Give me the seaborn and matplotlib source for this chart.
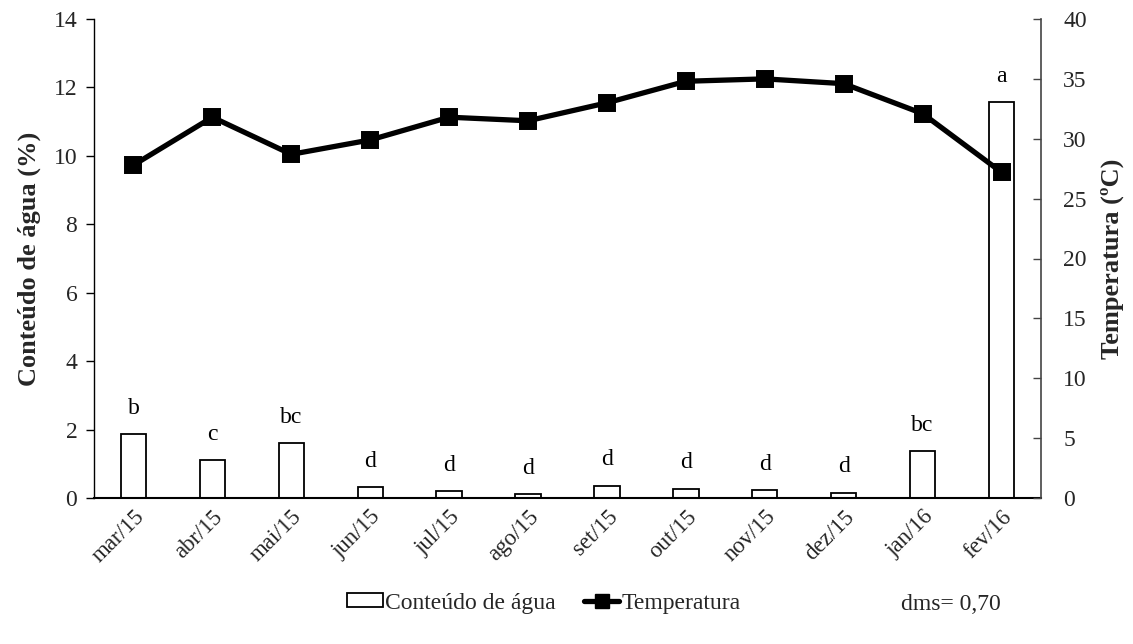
import numpy as np
import pandas as pd
import matplotlib
matplotlib.use("Agg")
import matplotlib.pyplot as plt
from matplotlib.patches import Patch
from matplotlib.lines import Line2D
import seaborn as sns

months = ["mar/15", "abr/15", "mai/15", "jun/15", "jul/15", "ago/15",
          "set/15", "out/15", "nov/15", "dez/15", "jan/16", "fev/16"]
agua = [1.86, 1.11, 1.60, 0.31, 0.20, 0.12, 0.36, 0.27, 0.23, 0.16, 1.38, 11.56]
temperatura = [27.8, 31.8, 28.7, 29.9, 31.8, 31.5, 33.0, 34.8, 35.0, 34.6, 32.1, 27.2]
letras = ["b", "c", "bc", "d", "d", "d", "d", "d", "d", "d", "bc", "a"]
left_ticks = [0, 2, 4, 6, 8, 10, 12, 14]
right_ticks = [0, 5, 10, 15, 20, 25, 30, 35, 40]

sns.set_theme(style="white")
plt.rcParams["font.family"] = ["Liberation Serif", "DejaVu Serif"]
FS_TICK = 17
FS_X = 16.5
FS_LAB = 19
FS_TXT = 17

df = pd.DataFrame({"mes": months, "agua": agua, "temp": temperatura})

fig = plt.figure(figsize=(11.33, 6.44), dpi=100)
ax = fig.add_axes([94 / 1133, 1 - 498 / 644, (1041 - 94) / 1133, (498 - 19) / 644])

sns.barplot(data=df, x="mes", y="agua", ax=ax, width=0.32,
            facecolor="white", edgecolor="black", linewidth=1.3, zorder=2)

for i, (v, t) in enumerate(zip(agua, letras)):
    ax.annotate(t, xy=(i, v), xytext=(0, 11), textcoords="offset points",
                ha="center", va="bottom", fontsize=FS_TXT, color="black")

ax.set_ylim(0, 14)
ax.set_xlim(-0.5, len(months) - 0.5)
ax.set_yticks(left_ticks)
ax.set_yticklabels([str(t) for t in left_ticks], fontsize=FS_TICK)
ax.set_xticks(range(len(months)))
ax.set_xticklabels(months, rotation=45, ha="right", rotation_mode="anchor", fontsize=FS_X)
ax.tick_params(axis="x", which="major", length=0, pad=6)
ax.set_xticks(np.arange(-0.5, len(months)), minor=True)
ax.tick_params(axis="x", which="minor", length=6, width=1.2, direction="out", color="black")
ax.tick_params(axis="y", length=6, width=1.0, direction="out", color="black", left=True, pad=6)
ax.set_xlabel("")
ax.set_ylabel("Conteúdo de água (%)", fontsize=FS_LAB, fontweight="bold", labelpad=9)

for s in ["top", "right"]:
    ax.spines[s].set_visible(False)
ax.spines["left"].set_color("black")
ax.spines["bottom"].set_color("black")
ax.spines["left"].set_linewidth(1.0)
ax.spines["bottom"].set_linewidth(1.5)

ax2 = ax.twinx()
sns.pointplot(data=df, x="mes", y="temp", ax=ax2, color="black", markers="s",
              linestyles="-", linewidth=3.8, markersize=10, zorder=3)
ax2.set_ylim(0, 40)
ax2.set_xlim(-0.5, len(months) - 0.5)
ax2.set_yticks(right_ticks)
ax2.set_yticklabels([str(t) for t in right_ticks], fontsize=FS_TICK)
ax2.tick_params(axis="y", length=6, width=1.0, direction="in", color="#444444", right=True, pad=16)
ax2.set_ylabel("Temperatura (ºC)", fontsize=FS_LAB, fontweight="bold", labelpad=10)
ax2.set_xlabel("")
for s in ["top", "left", "bottom"]:
    ax2.spines[s].set_visible(False)
ax2.spines["right"].set_color("#444444")
ax2.spines["right"].set_linewidth(1.2)
ax2.grid(False)
ax.grid(False)

handles = [Patch(facecolor="white", edgecolor="black", linewidth=1.3),
           Line2D([0], [0], color="black", linewidth=3.8, marker="s", markersize=10)]
fig.legend(handles, ["Conteúdo de água", "Temperatura"], loc="center",
           bbox_to_anchor=(544 / 1133, 1 - 603 / 644), ncol=2, frameon=False,
           fontsize=FS_TXT, handlelength=1.5, handleheight=0.55,
           handletextpad=0.1, columnspacing=1.2)
fig.text(951 / 1133, 1 - 604 / 644, "dms= 0,70", fontsize=FS_TXT, ha="center", va="center")

fig.savefig("out.png", dpi=100)
